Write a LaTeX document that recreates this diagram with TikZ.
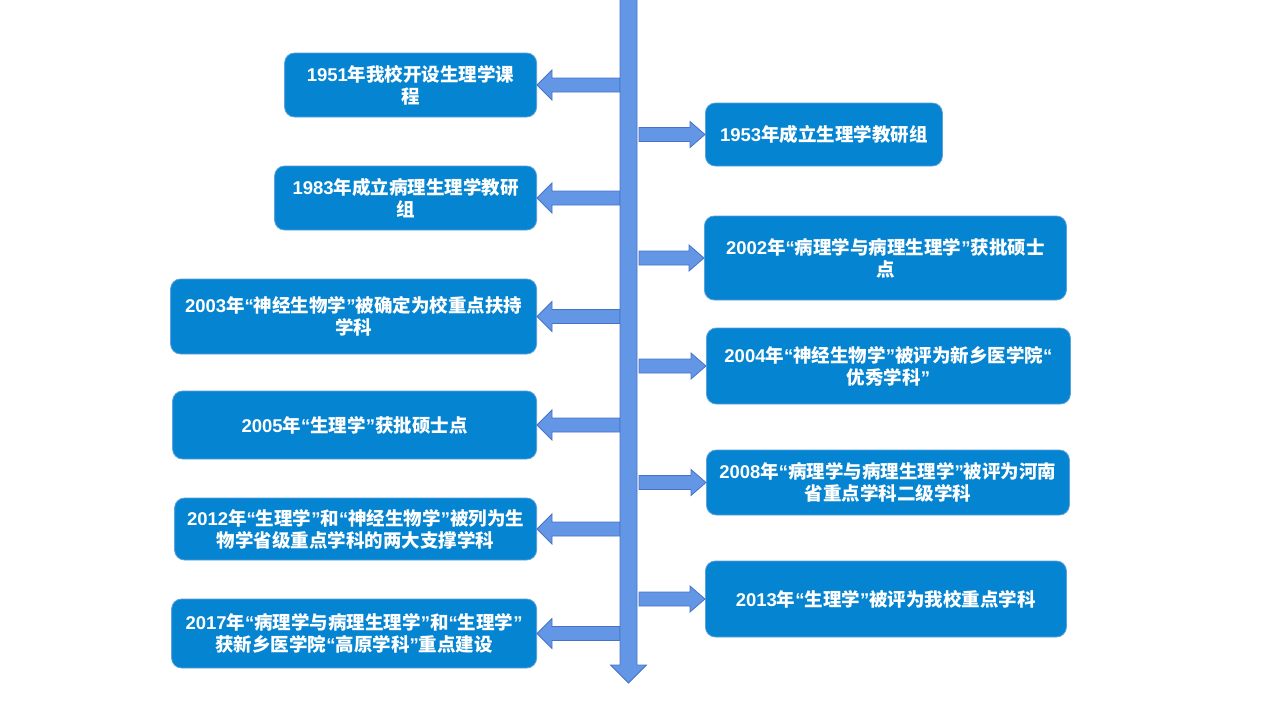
\documentclass[tikz,border=0pt]{standalone}
\usepackage{fontspec}
\setmainfont{Liberation Sans}
\newfontfamily\zhfont{Noto Sans CJK SC}
\usetikzlibrary{calc}
\definecolor{boxfill}{RGB}{5,132,209}
\definecolor{boxline}{RGB}{90,160,220}
\definecolor{arrowfill}{RGB}{100,150,230}
\definecolor{arrowline}{RGB}{70,115,200}
% Chinese characters in Noto, digits and quotes in Liberation Sans
\XeTeXinterchartokenstate=1
\count255="4E00
\loop
  \XeTeXcharclass\count255=7
  \advance\count255 by 1
\ifnum\count255<"A000 \repeat
\XeTeXinterchartoks 0 7 = {\zhfont}
\XeTeXinterchartoks 4095 7 = {\zhfont}
\XeTeXinterchartoks 7 0 = {\rmfamily}
\XeTeXinterchartoks 7 4095 = {\rmfamily}
% block arrow: start, tip, half shaft, half head, head length
\newcommand\linkarrow[5]{%
  \coordinate (s) at (#1);
  \coordinate (e) at (#2);
  \coordinate (h) at ($(e)!#5!(s)$);
  \filldraw[link] ($(s)!#3!90:(e)$) -- ($(h)!#3!-90:(s)$) -- ($(h)!#4!-90:(s)$) -- (e)
    -- ($(h)!#4!90:(s)$) -- ($(h)!#3!90:(s)$) -- ($(s)!#3!-90:(e)$) -- cycle;}
\begin{document}
\begin{tikzpicture}[x=1pt,y=-1pt,
  event/.style={rounded corners=10pt, fill=boxfill, draw=boxline, line width=0.8pt,
    text=white, align=center, inner sep=0pt,
    font=\bfseries\fontsize{18.5}{22}\selectfont},
  link/.style={fill=arrowfill, draw=arrowline, line width=0.8pt}]
  \useasboundingbox (0,0) rectangle (1280,720);
  \coordinate (barL) at (620,0);
  \coordinate (barR) at (639,0);
  \coordinate (top) at (628.5,-1);
  \coordinate (bottom) at (628.5,683);
  % left side
  \node[event, anchor=east, minimum width=252, minimum height=64] (b1) at (537,85)
    {1951年我校开设生理学课\\程};
  \node[event, anchor=east, minimum width=262, minimum height=64] (b3) at (537,198)
    {1983年成立病理生理学教研\\组};
  \node[event, anchor=east, minimum width=366, minimum height=75] (b5) at (537,316.5)
    {2003年“神经生物学”被确定为校重点扶持\\学科};
  \node[event, anchor=east, minimum width=364, minimum height=68] (b7) at (537,425)
    {2005年“生理学”获批硕士点};
  \node[event, anchor=east, minimum width=362, minimum height=62] (b9) at (537,529)
    {2012年“生理学”和“神经生物学”被列为生\\物学省级重点学科的两大支撑学科};
  \node[event, anchor=east, minimum width=365, minimum height=69] (b11) at (537,633.5)
    {2017年“病理学与病理生理学”和“生理学”\\获新乡医学院“高原学科”重点建设};
  % right side
  \node[event, anchor=west, minimum width=237, minimum height=63] (b2) at (705,134.5)
    {1953年成立生理学教研组};
  \node[event, anchor=west, minimum width=362, minimum height=84] (b4) at (704,258)
    {2002年“病理学与病理生理学”获批硕士\\点};
  \node[event, anchor=west, minimum width=364, minimum height=76] (b6) at (706,366)
    {2004年“神经生物学”被评为新乡医学院“\\优秀学科”};
  \node[event, anchor=west, minimum width=363, minimum height=65] (b8) at (706,482.5)
    {2008年“病理学与病理生理学”被评为河南\\省重点学科二级学科};
  \node[event, anchor=west, minimum width=361, minimum height=76] (b10) at (705,599)
    {2013年“生理学”被评为我校重点学科};
  % arrows
  \foreach \b in {b1,b3,b5,b7,b9,b11}
    \linkarrow{barL |- \b.east}{\b.east}{7pt}{15pt}{15pt};
  \foreach \b in {b2,b4,b6,b8,b10}
    \linkarrow{barR |- \b.west}{\b.west}{7pt}{13pt}{15pt};
  \linkarrow{top}{bottom}{8.5pt}{18pt}{18pt}
\end{tikzpicture}
\end{document}
